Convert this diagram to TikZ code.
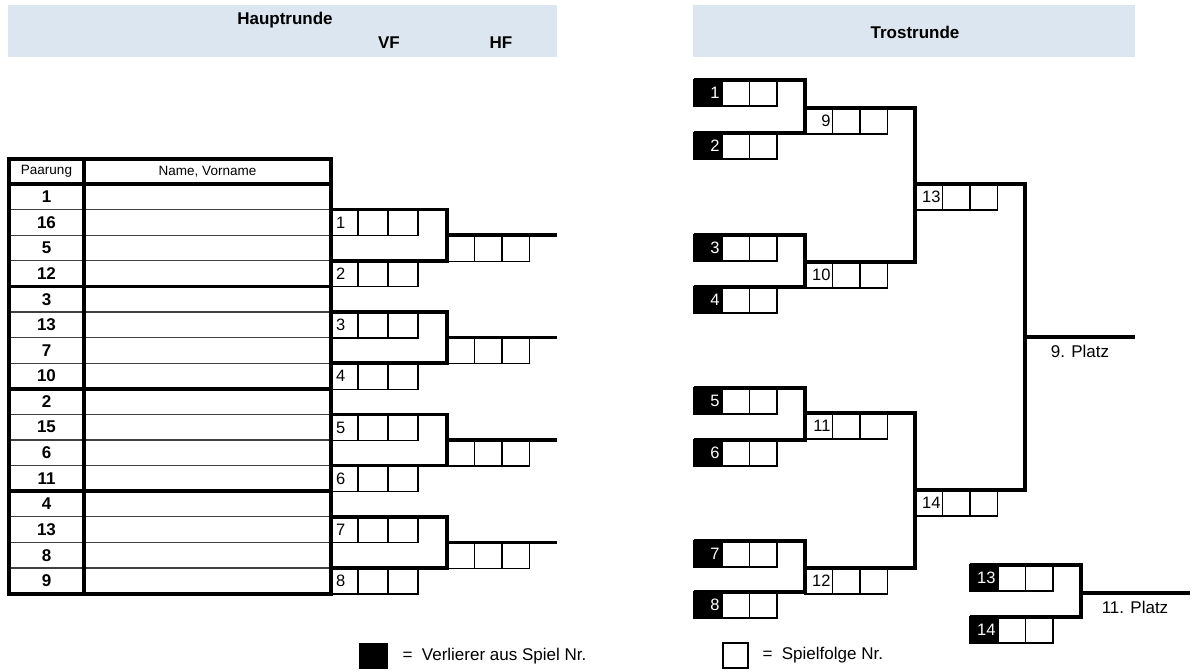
\documentclass[tikz,border=0pt]{standalone}
\usepackage{fontspec}
\setmainfont{Liberation Sans}
\usetikzlibrary{positioning}
\definecolor{bandblue}{RGB}{220,230,241}

% one result slot: number cell + two empty cells
\newcommand{\slot}[5]{%
  \node[#3] (#1) at (#2) {#5};
  \node[#4] (#1-a) at (#1.north east) {};
  \node[#4] (#1-b) at (#1-a.north east) {};}

\begin{document}
\begin{tikzpicture}[
  x=1pt, y=-1pt,
  font=\fontsize{17}{20}\selectfont,
  band/.style={fill=bandblue, draw=none},
  head/.style={font=\fontsize{17}{20}\selectfont\bfseries},
  pnum/.style={font=\fontsize{17}{20}\selectfont\bfseries},
  small/.style={font=\fontsize{13.5}{15}\selectfont},
  cell/.style={draw=black, line width=1.1pt, minimum height=26pt, minimum width=27.5pt,
               inner sep=0pt, outer sep=0pt, anchor=north west},
  lcell/.style={cell, minimum width=30pt},
  lnum/.style={cell, minimum width=26pt, text width=18pt, inner xsep=4pt, align=left,
               font=\fontsize{16.5}{17}\selectfont},
  rnum/.style={cell, text width=23.5pt, inner xsep=2pt, align=right,
               font=\fontsize{16.5}{17}\selectfont},
  lose/.style={rnum, fill=black, text=white, minimum width=28pt, text width=23pt, inner xsep=2.5pt},
  heavy/.style={line width=3.6pt, line join=miter},
  hair/.style={line width=1.2pt, draw=black!75},
]
\path[use as bounding box, fill=white] (0,0) rectangle (1192,672);

%% headers
\fill[band] (8,5) rectangle (557,57);
\fill[band] (693,5) rectangle (1135,57);
\node[head] (haupt) at (285,20) {Hauptrunde};
\node[head] (vf) at (389,43) {VF};
\node[head] (hf) at (501,43) {HF};
\node[head] (trost) at (915,32) {Trostrunde};

%% table
\node[small] (hpaar) at (46.5,171.5) {Paarung};
\node[small] (hname) at (207.5,171.5) {Name, Vorname};
\foreach \n [count=\i] in {1,16,5,12,3,13,7,10,2,15,6,11,4,13,8,9}
  \node[pnum] (p\i) at (46.5,{184+(\i-0.5)*25.6}) {\n};
\foreach \i in {1,2,3,5,6,7,9,10,11,13,14,15}
  \draw[hair] (9,{184+\i*25.6}) -- (331,{184+\i*25.6});
\foreach \i in {0,4,8,12}
  \draw[heavy] (9,{184+\i*25.6}) -- (331,{184+\i*25.6});
\draw[heavy] (9,159) rectangle (331,594);
\draw[heavy] (84,159) -- (84,594);

%% Hauptrunde brackets
\foreach \k/\a/\b in {0/1/2,1/3/4,2/5/6,3/7/8} {
  \pgfmathsetmacro\y{184+102.4*\k}
  \slot{m\a}{332,\y+25.6}{lnum}{lcell}{\a}
  \slot{m\b}{332,\y+76.8}{lnum}{lcell}{\b}
  \slot{hf\k}{447,\y+51.2}{cell}{cell}{}
  \draw[heavy] (m\a.north west) -| (hf\k.north west) |- (m\b.north west);
  \draw[heavy] (hf\k.north west) -- ++(110,0);
}

%% Trostrunde, first round
\slot{l1}{694,80}{lose}{cell}{1}
\slot{l2}{694,133}{lose}{cell}{2}
\slot{l3}{694,235}{lose}{cell}{3}
\slot{l4}{694,287}{lose}{cell}{4}
\slot{l5}{694,388}{lose}{cell}{5}
\slot{l6}{694,440}{lose}{cell}{6}
\slot{l7}{694,541}{lose}{cell}{7}
\slot{l8}{694,592}{lose}{cell}{8}

%% Trostrunde, later rounds
\slot{g9}{805,108}{rnum}{cell}{9}
\slot{g10}{805,262}{rnum}{cell}{10}
\slot{g11}{805,413}{rnum}{cell}{11}
\slot{g12}{805,568}{rnum}{cell}{12}
\slot{g13}{915,184}{rnum}{cell}{13}
\slot{g14}{915,490}{rnum}{cell}{14}
\coordinate (p9) at (1025,337);

\draw[heavy] (l1.north west) -| (g9.north west) |- (l2.north west);
\draw[heavy] (l3.north west) -| (g10.north west) |- (l4.north west);
\draw[heavy] (l5.north west) -| (g11.north west) |- (l6.north west);
\draw[heavy] (l7.north west) -| (g12.north west) |- (l8.north west);
\draw[heavy] (g9.north west) -| (g13.north west) |- (g10.north west);
\draw[heavy] (g11.north west) -| (g14.north west) |- (g12.north west);
\draw[heavy] (g13.north west) -| (p9) |- (g14.north west);
\draw[heavy] (p9) -- ++(110,0);
\node (p9t) at (1080,351) {9. Platz};

%% 11. Platz
\slot{k13}{970,565}{lose}{cell}{13}
\slot{k14}{970,617}{lose}{cell}{14}
\coordinate (p11) at (1081,593);
\draw[heavy] (k13.north west) -| (p11) |- (k14.north west);
\draw[heavy] (p11) -- ++(109,0);
\node (p11t) at (1135,607) {11. Platz};

%% legend
\node[cell, fill=black, minimum width=27pt, minimum height=24pt] (keyL) at (360,644) {};
\node[right=12pt of keyL] (keyLt) {=~~Verlierer aus Spiel Nr.};
\node[cell, minimum width=25pt, minimum height=25pt] (keyS) at (723,643) {};
\node[right=11pt of keyS] (keySt) {=~~Spielfolge Nr.};
\end{tikzpicture}
\end{document}
